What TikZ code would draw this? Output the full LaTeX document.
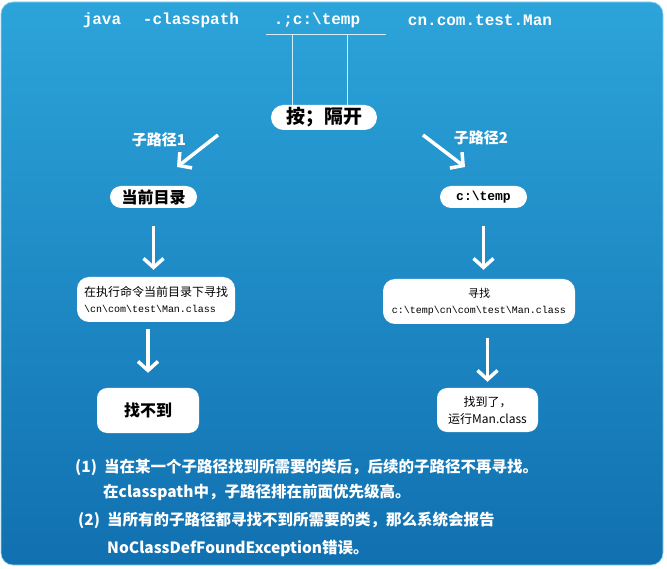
\documentclass[tikz,border=0pt]{standalone}
\usepackage{fontspec}
\setmainfont{Noto Sans CJK SC}
\setmonofont{Liberation Mono}
\usetikzlibrary{arrows.meta,positioning}
\definecolor{SkyT}{HTML}{2CA4DA}
\definecolor{SkyM}{HTML}{1C8DCA}
\definecolor{SkyB}{HTML}{1170B0}
\definecolor{Rim}{HTML}{8FD3F0}
\newcommand{\fsz}[2]{\fontsize{#1}{#2}\selectfont}
\newcommand{\bsl}{\textbackslash}

\begin{document}
\begin{tikzpicture}[x=1pt,y=-1pt,
    blk/.style={fill=white,rounded corners=11pt,inner sep=0pt,text=black,align=center},
    lbl/.style={text=white,font=\bfseries\fsz{15}{18},inner sep=0pt},
    cmd/.style={text=white,font=\ttfamily\bfseries\fsz{16}{18},inner sep=0pt},
    note/.style={text=white,font=\bfseries\fsz{15.5}{18},anchor=west,inner sep=0pt},
    arr/.style={draw=white,line width=3.5pt,-{Straight Barb[length=9pt,width=20pt]}},
    tick/.style={draw=white!80!SkyT,line width=0.8pt}]
  \useasboundingbox (0,0) rectangle (667,569);
  \shade[rounded corners=12pt,top color=SkyT,middle color=SkyM,bottom color=SkyB] (1,2) rectangle (663,565);
  \draw[Rim,line width=0.6pt,rounded corners=12pt] (1,2) rectangle (663,565);
  % command line
  \node[cmd] (java) at (102,20) {java};
  \node[cmd] (cp) at (191,20) {-classpath};
  \node[cmd] (path) at (317,20) {.;c:\bsl temp};
  \node[cmd] (cls) at (480,20) {cn.com.test.Man};
  \node[blk,minimum width=106pt,minimum height=25pt,rounded corners=12.5pt,
    font=\bfseries\fsz{19}{20}] (sep) at (324,117.5) {按；隔开};
  \coordinate (ul) at (266,34);
  \coordinate (ur) at (386,34);
  \coordinate (d1) at (292,34);
  \coordinate (d2) at (347,34);
  \draw[tick] (ul) -- (ur);
  \draw[tick] (d1) -- (d1 |- sep.north);
  \draw[tick] (d2) -- (d2 |- sep.north);
  % two sub paths
  \node[lbl] (sub1) at (159,140) {子路径1};
  \node[lbl] (sub2) at (481,138) {子路径2};
  \coordinate (a1s) at (218,135);
  \coordinate (a1e) at (177,167);
  \coordinate (a2s) at (423,135);
  \coordinate (a2e) at (465,167);
  \draw[arr] (a1s) -- (a1e);
  \draw[arr] (a2s) -- (a2e);
  \node[blk,minimum width=87pt,minimum height=22pt,font=\bfseries\fsz{16}{18}] (cur) at (153.5,197) {当前目录};
  \node[blk,minimum width=87pt,minimum height=22pt,font=\ttfamily\bfseries\fsz{13}{15}] (tmp) at (483.5,197) {c:\bsl temp};
  \node[blk,minimum width=158pt,minimum height=45pt,rounded corners=12pt,align=left,
    font=\fsz{12}{16}] (look1) at (156,299.5)
    {在执行命令当前目录下寻找\\{\ttfamily\fsz{10}{16}\bsl cn\bsl com\bsl test\bsl Man.class}};
  \node[blk,minimum width=192pt,minimum height=45pt,rounded corners=12pt,
    font=\fsz{11}{16}] (look2) at (479,301.5)
    {寻找\\{\ttfamily\fsz{10}{16}c:\bsl temp\bsl cn\bsl com\bsl test\bsl Man.class}};
  \node[blk,minimum width=102pt,minimum height=45pt,rounded corners=10pt,font=\bfseries\fsz{16}{18}] (miss) at (148,410.5) {找不到};
  \node[blk,minimum width=101pt,minimum height=44pt,rounded corners=10pt,font=\fsz{12}{17}] (hit) at (487.5,410) {找到了，\\运行Man.class};
  \draw[arr,shorten <=18pt,shorten >=7pt] (cur.south) -- (cur.south |- look1.north);
  \draw[arr,shorten <=18pt,shorten >=9pt] (tmp.south) -- (tmp.south |- look2.north);
  \draw[arr,shorten <=7pt,shorten >=15pt] (look1.south -| miss.north) -- (miss.north);
  \draw[arr,shorten <=14pt,shorten >=6pt] (look2.south -| hit.north) -- (hit.north);
  % notes
  \node[note] (n1) at (75,467) {(1)\hspace{7pt}当在某一个子路径找到所需要的类后，后续的子路径不再寻找。};
  \node[note] (n1b) at (103,492) {在classpath中，子路径排在前面优先级高。};
  \node[note] (n2) at (78,520) {(2)\hspace{7pt}当所有的子路径都寻找不到所需要的类，那么系统会报告};
  \node[note] (n2b) at (107,548) {NoClassDefFoundException错误。};
\end{tikzpicture}
\end{document}
